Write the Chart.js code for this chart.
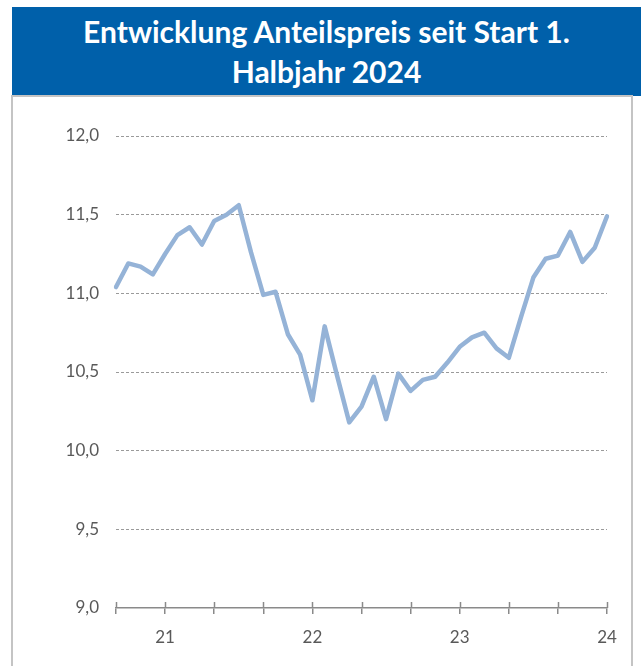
<!DOCTYPE html>
<html>
<head>
<meta charset="utf-8">
<script src="https://cdn.jsdelivr.net/npm/chart.js@4/dist/chart.umd.min.js"></script>
<style>
  html, body { margin: 0; padding: 0; background: #ffffff; width: 641px; height: 666px; overflow: hidden; }
  #banner {
    position: absolute; left: 12px; top: 7px; width: 629px; height: 89px;
    background: #0060AA; color: #ffffff;
    font-family: Lato, "Open Sans", sans-serif; font-weight: 700; font-size: 30px;
    line-height: 40px; text-align: center; padding-top: 4px; box-sizing: border-box;
  }
  #box {
    position: absolute; left: 11px; top: 95px; width: 618px; height: 600px;
    border: 2px solid #C4C4C4; background: #ffffff;
  }
  #wrap { position: absolute; left: 0; top: 0; width: 641px; height: 666px; }
</style>
</head>
<body>
<div id="banner">Entwicklung Anteilspreis seit Start 1.<br>Halbjahr 2024</div>
<div id="box"></div>
<div id="wrap"><canvas id="c" width="641" height="666"></canvas></div>
<script>
// Monthly categories (Sep 2020 – Jan 2024)
const months = [
  '09/20','10/20','11/20','12/20',
  '01/21','02/21','03/21','04/21','05/21','06/21','07/21','08/21','09/21','10/21','11/21','12/21',
  '01/22','02/22','03/22','04/22','05/22','06/22','07/22','08/22','09/22','10/22','11/22','12/22',
  '01/23','02/23','03/23','04/23','05/23','06/23','07/23','08/23','09/23','10/23','11/23','12/23',
  '01/24'
];
// Share price (Anteilspreis)
const prices = [
  11.04, 11.19, 11.17, 11.12,
  11.25, 11.37, 11.42, 11.31, 11.46, 11.50, 11.56, 11.26, 10.99, 11.01, 10.74, 10.61,
  10.32, 10.79, 10.48, 10.18, 10.28, 10.47, 10.20, 10.49, 10.38, 10.45, 10.47, 10.56,
  10.66, 10.72, 10.75, 10.65, 10.59, 10.85, 11.10, 11.22, 11.24, 11.39, 11.20, 11.29,
  11.49
];
const yMin = 9.0, yMax = 12.0, yStep = 0.5;

const axisFont = { family: 'Lato, "Open Sans", sans-serif', size: 17 };
const axisGray = '#8A8A8A';

const crossTicks = {
  id: 'crossTicks',
  afterDatasetsDraw(chart) {
    const xs = chart.scales.x;
    const ctx = chart.ctx;
    const y = chart.chartArea.bottom;
    ctx.save();
    ctx.strokeStyle = axisGray;
    ctx.lineWidth = 1.5;
    ctx.beginPath();
    for (let i = 0; i < xs.ticks.length; i++) {
      const px = Math.round(xs.getPixelForTick(i)) + 0.5;
      ctx.moveTo(px, y - 6);
      ctx.lineTo(px, y);
    }
    ctx.stroke();
    ctx.restore();
  }
};

new Chart(document.getElementById('c'), {
  type: 'line',
  data: {
    labels: months,
    datasets: [{
      data: prices,
      borderColor: '#95B3D7',
      borderWidth: 4.5,
      pointRadius: 0,
      tension: 0,
      fill: false,
      borderJoinStyle: 'round',
      borderCapStyle: 'round'
    }]
  },
  options: {
    responsive: false,
    animation: false,
    devicePixelRatio: 1,
    layout: { padding: { top: 136, right: 34, left: 0, bottom: 0 } },
    plugins: { legend: { display: false }, tooltip: { enabled: false }, title: { display: false } },
    scales: {
      x: {
        type: 'category',
        offset: false,
        afterBuildTicks(scale) { scale.ticks = scale.ticks.filter(t => t.value % 4 === 0); },
        afterFit(scale) { scale.height = 58; },
        grid: { display: true, drawOnChartArea: false, drawTicks: true, tickLength: 6, color: axisGray, lineWidth: 1.5 },
        border: { display: true, color: axisGray, width: 1.5 },
        ticks: {
          autoSkip: false, maxRotation: 0, padding: 13, color: '#595959', font: axisFont,
          callback(value) {
            const m = months[value];
            return m.startsWith('01/') ? m.slice(3) : '';
          }
        }
      },
      y: {
        min: yMin, max: yMax,
        afterFit(scale) { scale.width = 116; },
        grid: {
          drawTicks: false,
          color: ctx => (ctx.tick && ctx.tick.value === yMin) ? 'rgba(0,0,0,0)' : '#9A9A9A',
          lineWidth: 1
        },
        border: { display: false, dash: [3, 2] },
        ticks: {
          stepSize: yStep, padding: 17, color: '#595959', font: axisFont,
          callback: v => v.toFixed(1).replace('.', ',')
        }
      }
    }
  },
  plugins: [crossTicks]
});
</script>
</body>
</html>
